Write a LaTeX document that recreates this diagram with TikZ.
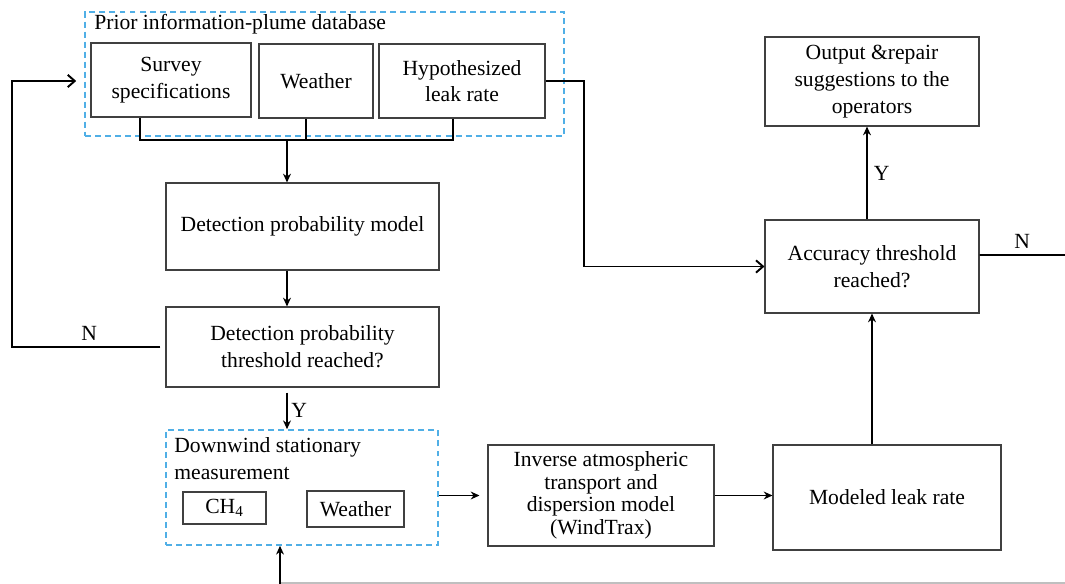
\documentclass[tikz,border=0pt]{standalone}
\usepackage{fontspec}
\setmainfont{Liberation Serif}
\usetikzlibrary{arrows.meta}

\tikzset{
    box/.style={draw=black!75, line width=0.6pt, align=center, inner sep=2pt,
        font=\rmfamily\fontsize{12.3}{15.2}\selectfont},
    groupbox/.style={draw=cyan!80!blue!70, line width=0.9pt, dash pattern=on 3.4pt off 2.3pt},
    link/.style={line width=1.1pt, -{Stealth[length=5pt,width=4.5pt]}},
    openlink/.style={line width=1.1pt, -{Straight Barb[length=4pt,width=7pt]}},
    lbl/.style={font=\rmfamily\fontsize{12.3}{15.2}\selectfont}
}

\begin{document}
\begin{tikzpicture}[x=0.02cm, y=-0.02cm]
        \useasboundingbox (0, 0) rectangle (1065, 584);

        % prior information group
        \node[groupbox, minimum width=479*0.02cm, minimum height=124*0.02cm] (prior) at (324.5, 74) {};
        \node[lbl, anchor=north west, inner sep=0pt] (priortitle) at (94, 14) {Prior information-plume database};
        \node[box, minimum width=160*0.02cm, minimum height=74*0.02cm] (survey) at (171, 80) {Survey\\specifications};
        \node[box, minimum width=114*0.02cm, minimum height=74*0.02cm] (weather) at (316, 81) {Weather};
        \node[box, minimum width=166*0.02cm, minimum height=74*0.02cm] (hyp) at (462, 81) {Hypothesized\\leak rate};

        % detection
        \node[box, minimum width=273*0.02cm, minimum height=87*0.02cm] (detmodel) at (302.5, 226.5) {Detection probability model};
        \node[box, minimum width=273*0.02cm, minimum height=80*0.02cm] (detthr) at (302.5, 347) {Detection probability\\threshold reached?};

        % downwind measurement group
        \node[groupbox, minimum width=272*0.02cm, minimum height=115*0.02cm] (down) at (302, 487.5) {};
        \node[lbl, anchor=north west, inner sep=0pt, align=left] (downtitle) at (174, 437) {Downwind stationary\\measurement};
        \node[box, minimum width=83*0.02cm, minimum height=32*0.02cm] (ch4) at (224.5, 508) {CH\textsubscript{4}};
        \node[box, minimum width=97*0.02cm, minimum height=36*0.02cm] (weathertwo) at (355.5, 509) {Weather};

        % models
        \node[box, minimum width=226*0.02cm, minimum height=101*0.02cm, font=\rmfamily\fontsize{12.3}{12.8}\selectfont] (inverse) at (601, 495.5) {Inverse atmospheric\\transport and\\dispersion model\\(WindTrax)};
        \node[box, minimum width=228*0.02cm, minimum height=105*0.02cm] (modeled) at (887, 497.5) {Modeled leak rate};
        \node[box, minimum width=214*0.02cm, minimum height=93*0.02cm] (accuracy) at (872, 266.5) {Accuracy threshold\\reached?};
        \node[box, minimum width=214*0.02cm, minimum height=89*0.02cm] (output) at (872, 81.5) {Output \&repair\\suggestions to the\\operators};

        \coordinate (join) at (287, 140);
        \coordinate (loopL) at (12, 347);
        \coordinate (rightN) at (1065, 255);
        \coordinate (bottomL) at (280, 583);
        \coordinate (bottomR) at (1065, 583);

        % connectors
        \draw[line width=1.1pt] ([xshift=1cm]survey.south west) |- (join);
        \draw[line width=1.1pt] ([xshift=1.5cm]hyp.south west) |- (join);
        \draw[line width=1.1pt] ([xshift=-0.2cm]weather.south) -- ([xshift=-0.2cm]weather.south |- join);
        \draw[link] (join) -- (join |- detmodel.north);
        \draw[link] (detmodel.south -| join) -- (detthr.north -| join);
        \draw[link] ([yshift=-0.1cm]detthr.south -| join) -- (join |- down.north)
            node[lbl, midway, right, inner sep=2pt] {Y};
        \draw[openlink] ([xshift=-0.1cm]detthr.west) -- (loopL)
            node[lbl, pos=0.48, above] {N}
            |- ([xshift=-0.16cm]prior.west |- hyp);
        \draw[openlink] (hyp.east) -- ++(38, 0) |- (accuracy.west);
        \draw[link] ([xshift=-0.1cm]accuracy.north) -- ([xshift=-0.1cm]output.south)
            node[lbl, midway, right] {Y};
        \draw[line width=1.1pt] ([yshift=0.23cm]accuracy.east) -- (rightN)
            node[lbl, midway, above] {N};
        \draw[link] (accuracy.south |- modeled.north) -- (accuracy.south);
        \draw[link] (down.east |- inverse) -- ([xshift=-0.16cm]inverse.west);
        \draw[link] (inverse.east) -- (modeled.west |- inverse.east);
        \draw[black!25, line width=0.8pt] (bottomL) -- (bottomR);
        \draw[link] ([yshift=-0.05cm]bottomL) -- (down.south -| bottomL);
    \end{tikzpicture}
\end{document}
